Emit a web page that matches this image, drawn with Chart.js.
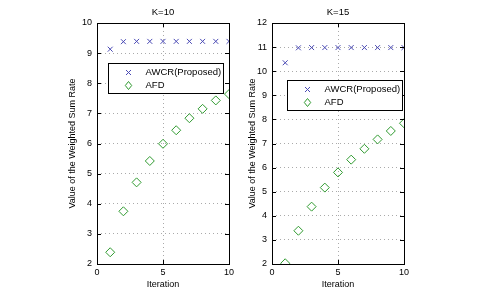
<!DOCTYPE html>
<html>
<head>
<meta charset="utf-8">
<script src="https://cdn.jsdelivr.net/npm/chart.js@4/dist/chart.umd.min.js"></script>
<style>
html,body{margin:0;padding:0;background:#fff;width:484px;height:290px;overflow:hidden;}
canvas{position:absolute;top:0;}
#c1{left:60px;}
#c2{left:240px;}
</style>
</head>
<body>
<canvas id="c1" width="180" height="290"></canvas>
<canvas id="c2" width="180" height="290"></canvas>
<script>
const iterations = [1,2,3,4,5,6,7,8,9,10];
const awcrK10 = [9.13,9.38,9.39,9.39,9.39,9.39,9.39,9.39,9.39,9.39];
const afdK10  = [2.39,3.75,4.71,5.42,5.99,6.44,6.84,7.15,7.43,7.64];
const awcrK15 = [10.35,10.97,10.98,10.98,10.98,10.98,10.98,10.98,10.98,10.98];
const afdK15  = [2.03,3.38,4.38,5.17,5.80,6.33,6.78,7.17,7.52,7.84];
const titles = ['K=10','K=15'];
const seriesLabels = ['AWCR(Proposed)','AFD'];
const xLabel = 'Iteration';
const yLabel = 'Value of the Weighted Sum Rate';

const FONT = 'Liberation Sans, Arial, sans-serif';
const crossColor = '#4a4ab4';
const diaColor = '#2f9a2f';

const framePlugin = {
  id:'frame',
  afterDraw(chart, args, opts){
    const ctx = chart.ctx, a = chart.chartArea;
    ctx.save();
    ctx.strokeStyle = '#000';
    ctx.lineWidth = 1;
    const xs = chart.scales.x, ys = chart.scales.y;
    const L = 4;
    ctx.beginPath();
    xs.ticks.forEach(t=>{
      const px = Math.round(xs.getPixelForValue(t.value))+0.5;
      ctx.moveTo(px, a.bottom); ctx.lineTo(px, a.bottom-L);
      ctx.moveTo(px, a.top); ctx.lineTo(px, a.top+L);
    });
    ys.ticks.forEach(t=>{
      const py = Math.round(ys.getPixelForValue(t.value))+0.5;
      ctx.moveTo(a.left, py); ctx.lineTo(a.left+L, py);
      ctx.moveTo(a.right, py); ctx.lineTo(a.right-L, py);
    });
    ctx.stroke();
    ctx.strokeRect(Math.round(a.left)+0.5, Math.round(a.top)+0.5, Math.round(a.right-a.left), Math.round(a.bottom-a.top));
    // title centred over the plot area
    ctx.fillStyle = '#000';
    ctx.font = '9.5px ' + FONT;
    ctx.textAlign = 'center';
    ctx.textBaseline = 'middle';
    ctx.fillText(opts.title, (a.left + a.right)/2, 12);
    // legend box
    const bx = Math.round(a.left + opts.dx)+0.5, by = Math.round(a.top + opts.dy)+0.5;
    const bw = Math.round(a.right - opts.dr - a.left - opts.dx), bh = 30;
    ctx.fillStyle = '#fff';
    ctx.fillRect(bx, by, bw, bh);
    ctx.strokeRect(bx, by, bw, bh);
    ctx.font = '9.5px ' + FONT;
    ctx.textBaseline = 'middle';
    ctx.textAlign = 'left';
    chart.data.datasets.forEach((ds,i)=>{
      const cy = by + 9 + i*13;
      const mx = bx + 20;
      ctx.strokeStyle = ds.pointBorderColor;
      ctx.lineWidth = 1;
      ctx.beginPath();
      if (ds.pointStyle === 'crossRot') {
        const r = 2.5;
        ctx.moveTo(mx-r, cy-r); ctx.lineTo(mx+r, cy+r);
        ctx.moveTo(mx+r, cy-r); ctx.lineTo(mx-r, cy+r);
      } else {
        const r = 4;
        ctx.moveTo(mx, cy-r); ctx.lineTo(mx+3.2, cy); ctx.lineTo(mx, cy+r); ctx.lineTo(mx-3.2, cy); ctx.closePath();
      }
      ctx.stroke();
      ctx.fillStyle = '#000';
      ctx.fillText(ds.label, bx + 37, cy);
    });
    ctx.restore();
  }
};

function makeChart(id, title, awcr, afd, ymax, yWidth, padRight, legendPos){
  legendPos.title = title;
  return new Chart(document.getElementById(id), {
    type:'scatter',
    data:{
      datasets:[
        {label:seriesLabels[0], data:iterations.map((x,i)=>({x, y:awcr[i]})),
         pointStyle:'crossRot', pointRadius:3.5, pointBorderColor:crossColor, pointBackgroundColor:crossColor, pointBorderWidth:1, showLine:false},
        {label:seriesLabels[1], data:iterations.map((x,i)=>({x, y:afd[i]})),
         pointStyle:'rectRot', pointRadius:4.5, pointBorderColor:diaColor, pointBackgroundColor:'rgba(0,0,0,0)', pointBorderWidth:1, showLine:false}
      ]
    },
    options:{
      responsive:false, animation:false, devicePixelRatio:1,
      layout:{padding:{left:0,right:padRight,top:23,bottom:0}},
      plugins:{
        legend:{display:false}, tooltip:{enabled:false}, title:{display:false},
        frame:legendPos
      },
      scales:{
        x:{type:'linear', min:0, max:10,
           ticks:{stepSize:5, color:'#000', font:{family:FONT,size:9}, padding:3, maxRotation:0},
           grid:{color:'#aaa', drawTicks:false, lineWidth:1},
           border:{display:false, dash:[1,3]},
           title:{display:true, text:xLabel, color:'#000', font:{family:FONT,size:9}, padding:{top:0,bottom:0}},
           afterFit(s){ s.height = 26; }
        },
        y:{type:'linear', min:2, max:ymax,
           ticks:{stepSize:1, color:'#000', font:{family:FONT,size:9}, padding:5},
           grid:{color:'#aaa', drawTicks:false, lineWidth:1},
           border:{display:false, dash:[1,3]},
           title:{display:true, text:yLabel, color:'#000', font:{family:FONT,size:9}, padding:{top:7,bottom:0}},
           afterFit(s){ s.width = yWidth; }
        }
      }
    },
    plugins:[framePlugin]
  });
}

makeChart('c1', titles[0], awcrK10, afdK10, 10, 37, 11, {dx:11, dr:6, dy:40});
makeChart('c2', titles[1], awcrK15, afdK15, 12, 32, 16, {dx:15, dr:2, dy:57});
</script>
</body>
</html>
